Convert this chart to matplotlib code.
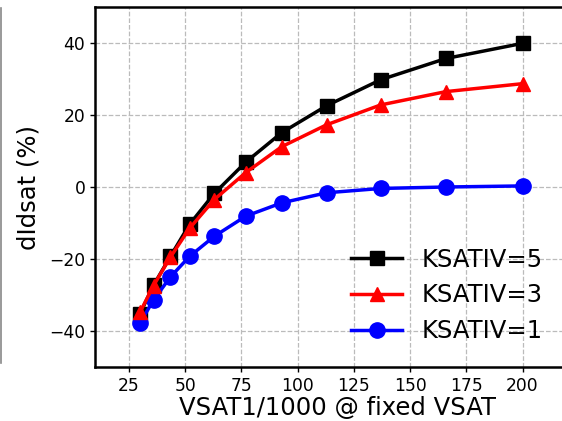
import matplotlib
matplotlib.use("Agg")
import matplotlib.pyplot as plt
from matplotlib.lines import Line2D

vsat1 = [30, 36, 43.5, 52, 63, 77, 93, 113, 137, 166, 200]
k5 = [-35.2, -27.3, -19.3, -10.4, -1.8, 6.9, 15.1, 22.6, 29.8, 35.7, 39.9]
k3 = [-34.8, -27.4, -19.5, -11.5, -3.5, 4.0, 11.2, 17.3, 22.8, 26.5, 28.7]
k1 = [-37.8, -31.4, -25.0, -19.3, -13.7, -8.1, -4.4, -1.6, -0.4, 0.0, 0.3]
labels = ["KSATIV=5", "KSATIV=3", "KSATIV=1"]

W, H = 562, 421
fig = plt.figure(figsize=(W / 100, H / 100), dpi=100)
left, right, top, bottom = 95, 580, 7, 367
ax = fig.add_axes([left / W, 1 - bottom / H, (right - left) / W, (bottom - top) / H])

ax.plot(vsat1, k5, color="black", marker="s", lw=2.5, ms=10, label=labels[0], zorder=3)
ax.plot(vsat1, k3, color="red", marker="^", lw=2.5, ms=10, label=labels[1], zorder=4)
ax.plot(vsat1, k1, color="blue", marker="o", lw=2.5, ms=11, label=labels[2], zorder=3)

ax.set_xlim(10, 10 + (right - left) / 2.25)
ax.set_ylim(-50, 50)
ax.set_xticks([25, 50, 75, 100, 125, 150, 175, 200])
ax.set_yticks([-40, -20, 0, 20, 40])
ax.tick_params(labelsize=12.3, width=1, length=3.5)
ax.grid(True, linestyle="--", color="#bbbbbb", linewidth=0.9)
for s in ax.spines.values():
    s.set_linewidth(1.8)
ax.spines["right"].set_visible(False)
ax.set_xlabel("VSAT1/1000 @ fixed VSAT", fontsize=17.5, labelpad=1)
ax.set_ylabel("dIdsat (%)", fontsize=17.5, labelpad=6)
leg = ax.legend(loc="lower right", bbox_to_anchor=(465 / (right - left), 0.019),
                frameon=False, fontsize=17.5, handlelength=2.1, handletextpad=0.8,
                labelspacing=0.48, borderaxespad=0.3)

fig.add_artist(Line2D([1 / W, 1 / W], [1 - 8 / H, 1 - 363 / H],
                      transform=fig.transFigure, color="#888888", lw=1.2))

fig.savefig("out.png", dpi=100)
